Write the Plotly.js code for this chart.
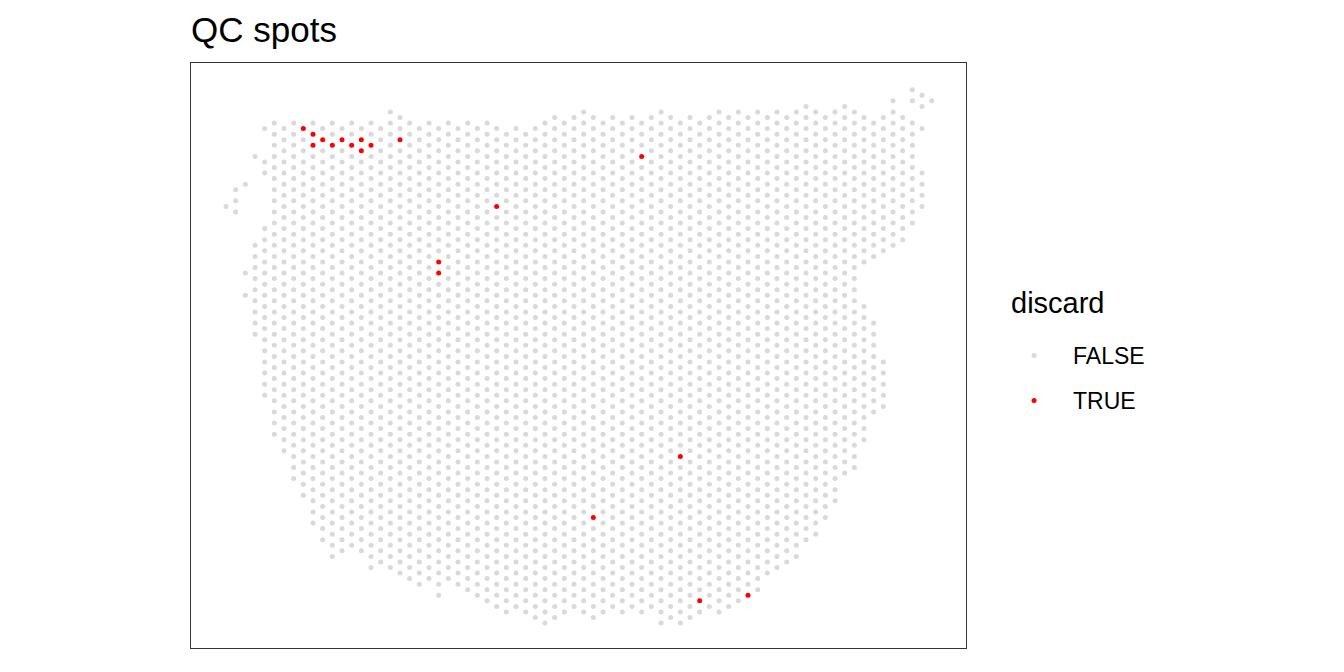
<!DOCTYPE html>
<html>
<head>
<meta charset="utf-8">
<script src="https://cdn.plot.ly/plotly-3.0.1.min.js"></script>
<style>
  html, body { margin: 0; padding: 0; background: #ffffff; }
  #chart { width: 1344px; height: 672px; }
</style>
</head>
<body>
<div id="chart"></div>
<script>
// Spot lattice: for each spot column (array row index),
// the runs of spots it contains (spot index from..to, every second index).
const segRow  = [0, 1, 2, 2, 2, 3, 3, 4, 4, 4, 5, 6, 7, 8, 9, 10, 11, 12, 13, 14, 15, 16, 17, 18, 19, 20,
                 21, 22, 23, 24, 25, 26, 27, 28, 29, 30, 31, 32, 33, 34, 35, 36, 37, 38, 39, 40, 41, 42,
                 43, 44, 45, 46, 47, 48, 49, 50, 51, 52, 53, 54, 55, 56, 57, 58, 59, 60, 61, 62, 63, 64,
                 65, 66, 66, 67, 67, 68, 68, 69, 70, 71, 71, 72, 72, 72, 73];
const segFrom = [21, 18, 17, 33, 37, 12, 28, 7, 13, 25, 6, 7, 6, 7, 6, 7, 6, 7, 6, 7, 6, 7, 4, 5, 6, 7,
                 6, 7, 6, 7, 6, 7, 6, 7, 8, 7, 8, 7, 6, 5, 6, 5, 4, 5, 6, 5, 6, 5,
                 6, 5, 4, 5, 6, 5, 6, 5, 4, 5, 4, 5, 4, 5, 4, 5, 4, 3, 4, 5, 4, 3,
                 4, 5, 39, 6, 42, 5, 49, 2, 5, 0, 6, 1, 7, 15, 2];
const segTo   = [21, 22, 17, 33, 37, 12, 44, 7, 15, 55, 62, 65, 70, 73, 78, 81, 84, 83, 82, 83, 86, 85, 86, 87, 88, 89,
                 88, 91, 88, 89, 90, 91, 92, 93, 94, 93, 94, 95, 96, 95, 94, 93, 94, 95, 94, 93, 94, 93,
                 94, 93, 96, 95, 96, 95, 94, 93, 94, 93, 92, 91, 90, 87, 86, 85, 84, 81, 80, 77, 74, 69,
                 68, 31, 63, 30, 58, 29, 57, 28, 27, 2, 24, 3, 7, 21, 2];

// Spots flagged as discard = TRUE
const discardRow = [8, 9, 9, 10, 11, 12, 13, 14, 14, 15, 18, 43, 28, 22, 22, 47, 38, 49, 54];
const discardCol = [7, 8, 10, 9, 10, 9, 10, 9, 11, 10, 9, 12, 21, 31, 33, 66, 77, 92, 91];

const legendLabels = ["FALSE", "TRUE"];
const legendTitle = "discard";
const chartTitle = "QC spots";

// Expand the runs into individual spots
const isDiscard = new Set(discardRow.map((r, k) => r + "_" + discardCol[k]));
const keepX = [], keepY = [];
for (let s = 0; s < segRow.length; s++) {
  for (let c = segFrom[s]; c <= segTo[s]; c += 2) {
    if (!isDiscard.has(segRow[s] + "_" + c)) {
      keepX.push(segRow[s]);
      keepY.push(c);
    }
  }
}

const FONT = '"Liberation Sans", Arial, Helvetica, sans-serif';

const traces = [
  {
    type: 'scatter', mode: 'markers', name: legendLabels[0], legendgroup: 'a',
    x: keepX, y: keepY,
    marker: { color: '#D9D9D9', size: 5, line: { width: 0 } },
    hoverinfo: 'skip'
  },
  {
    type: 'scatter', mode: 'markers', name: legendLabels[1], legendgroup: 'b',
    x: discardRow, y: discardCol,
    marker: { color: '#FF0000', size: 5, line: { width: 0 } },
    hoverinfo: 'skip'
  }
];

const axisCommon = {
  showgrid: false, zeroline: false, showticklabels: false, ticks: '',
  showline: true, mirror: true, linecolor: '#333333', linewidth: 1
};

const layout = {
  width: 1344, height: 672,
  margin: { l: 191, r: 378, t: 63, b: 24, pad: 0 },
  paper_bgcolor: '#ffffff', plot_bgcolor: '#ffffff',
  font: { family: FONT, color: '#000000' },
  title: {
    text: chartTitle, font: { family: FONT, size: 35, color: '#000000' },
    xref: 'paper', x: 0, xanchor: 'left',
    yref: 'container', y: 1 - 30 / 672, yanchor: 'middle'
  },
  xaxis: Object.assign({ range: [-3.62, 76.55] }, axisCommon),
  yaxis: Object.assign({ range: [100.49, -4.81] }, axisCommon),
  showlegend: true,
  legend: {
    font: { family: FONT, size: 23, color: '#000000' },
    x: 1.0375, xanchor: 'left', y: 0.5367, yanchor: 'top',
    tracegroupgap: 12, itemsizing: 'trace', itemwidth: 68,
    bgcolor: 'rgba(0,0,0,0)'
  },
  annotations: [{
    text: legendTitle, showarrow: false,
    xref: 'paper', yref: 'paper', x: 1.0555, y: 0.5897,
    xanchor: 'left', yanchor: 'middle',
    font: { family: FONT, size: 29, color: '#000000' }
  }]
};

Plotly.newPlot('chart', traces, layout, { staticPlot: true, displayModeBar: false });
</script>
</body>
</html>
